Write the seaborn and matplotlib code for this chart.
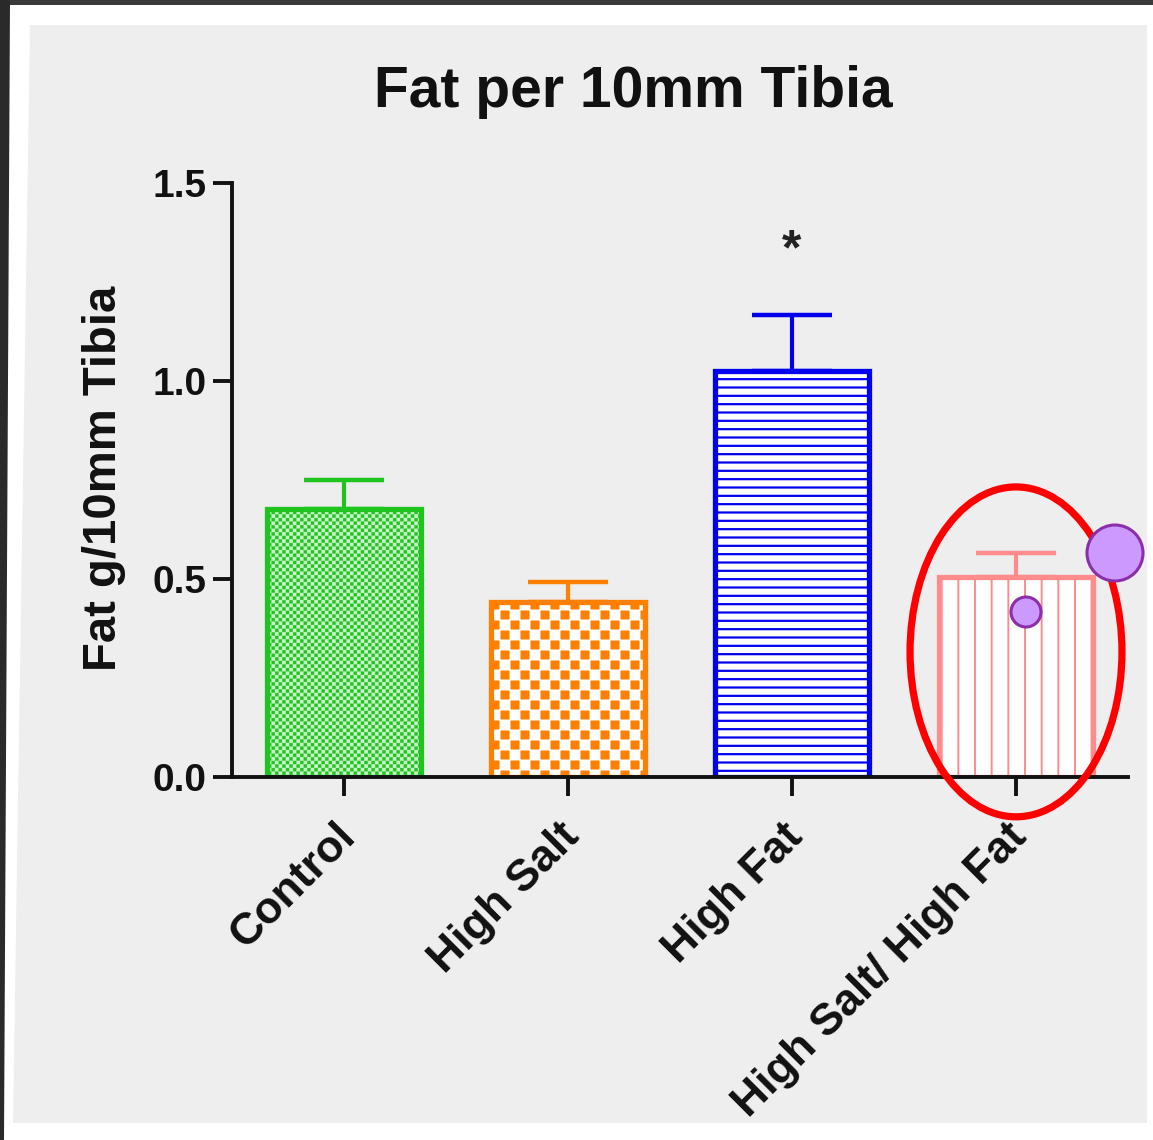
import numpy as np
import pandas as pd
import matplotlib
matplotlib.use("Agg")
import matplotlib.pyplot as plt
import matplotlib.hatch as mhatch
from matplotlib.path import Path
from matplotlib.patches import Ellipse, Polygon
from matplotlib.transforms import ScaledTranslation
import seaborn as sns

# ---------------- data ----------------
categories = ["Control", "High Salt", "High Fat", "High Salt/ High Fat"]
means = [0.677, 0.442, 1.025, 0.505]
sem = [0.073, 0.050, 0.142, 0.061]
sig_marks = ["", "", "*", ""]
sig_y = [0.0, 0.0, 1.295, 0.0]
y_ticks = [0.0, 0.5, 1.0, 1.5]
y_tick_labels = ["0.0", "0.5", "1.0", "1.5"]
title = "Fat per 10mm Tibia"
ylabel = "Fat g/10mm Tibia"

# ---------------- styles ----------------
edge_colors = ["#1fc41f", "#ff8000", "#0000ee", "#ff8c8c"]
face_colors = ["#c9f2c9", "#ffffff", "#ffffff", "#ffffff"]
hatches = ["OO", "O", "--", "|"]
hatch_lw = [0.3, 0.3, 1.6, 1.4]
checker_cells = {1: 10, 2: 28}


# checkerboard hatch (replaces the large-circle hatch 'O')
class CheckerHatch(mhatch.HatchPatternBase):
    def __init__(self, hatch, density):
        c = hatch.count('O')
        n = checker_cells.get(c, 2 * int(round(c * density * 1.15))) if c else 0
        self.n = n
        self.num_vertices = 5 * (n * n // 2) if n else 0

    def set_vertices_and_codes(self, vertices, codes):
        n = self.n
        s = 1.0 / n
        inset = 0.08 * s
        k = 0
        for i in range(n):
            for j in range(n):
                if (i + j) % 2:
                    continue
                x0, y0 = i * s + inset, j * s + inset
                x1, y1 = (i + 1) * s - inset, (j + 1) * s - inset
                vertices[k:k + 5] = [[x0, y0], [x1, y0], [x1, y1], [x0, y1], [x0, y0]]
                codes[k:k + 5] = [Path.MOVETO, Path.LINETO, Path.LINETO,
                                  Path.LINETO, Path.CLOSEPOLY]
                k += 5


mhatch._hatch_types = [CheckerHatch if t is mhatch.LargeCircles else t
                       for t in mhatch._hatch_types]

sns.set_theme(style="ticks")
plt.rcParams["font.family"] = ["Liberation Sans", "DejaVu Sans"]
plt.rcParams["hatch.linewidth"] = 1.5

W, H = 1153, 1140
fig = plt.figure(figsize=(W / 100, H / 100), dpi=100)
fig.patch.set_facecolor("white")


def fp(x, y):
    return (x / W, 1 - y / H)


panel_gray = "#eeeeee"
# dark photo border and gray panel
fig.add_artist(Polygon([fp(0, 0), fp(W, 0), fp(W, 5), fp(0, 5)], closed=True,
                       transform=fig.transFigure, fc="#3a3a3a", ec="none", zorder=-3))
fig.add_artist(Polygon([fp(0, 0), fp(10, 0), fp(4, H), fp(0, H)], closed=True,
                       transform=fig.transFigure, fc="#2a2a2a", ec="none", zorder=-3))
fig.add_artist(Polygon([fp(30, 25), fp(1147, 25), fp(1147, 1123), fp(13, 1123)], closed=True,
                       transform=fig.transFigure, fc=panel_gray, ec="none", zorder=-2))

ax = fig.add_axes([232 / W, 1 - 777 / H, 896 / W, 594 / H])
ax.set_facecolor(panel_gray)

df = pd.DataFrame({"group": categories, "value": means})
sns.barplot(data=df, x="group", y="value", hue="group", order=categories,
            hue_order=categories, palette=dict(zip(categories, face_colors)),
            width=0.69, errorbar=None, legend=False, saturation=1, ax=ax,
            linewidth=3.8)

for p, ec, fc, h, hl in zip(ax.patches, edge_colors, face_colors, hatches, hatch_lw):
    p.set_facecolor(fc)
    p.set_edgecolor(ec)
    p.set_hatch(h)
    p.set_linewidth(3.8)
    p.set_zorder(2)
    if hasattr(p, "set_hatch_linewidth"):
        p.set_hatch_linewidth(hl)

for i, (m, e, c) in enumerate(zip(means, sem, edge_colors)):
    ax.errorbar([i], [m], yerr=[[0], [e]], fmt="none", ecolor=c,
                elinewidth=3.0, capsize=29, capthick=3.2, zorder=1)

for i, (mark, yy) in enumerate(zip(sig_marks, sig_y)):
    if mark:
        ax.text(i, yy, mark, ha="center", va="baseline", fontsize=36,
                fontweight="bold", color="#222222")

ax.set_xlim(-0.5, 3.5)
ax.set_ylim(0, 1.5)

sns.despine(ax=ax)
for s in ["left", "bottom"]:
    ax.spines[s].set_linewidth(2.8)
    ax.spines[s].set_color("#111111")
ax.tick_params(axis="both", direction="out", length=14, width=2.8, color="#111111")
ax.tick_params(axis="y", pad=4)
ax.tick_params(axis="x", pad=14)
ax.grid(False)

ax.set_yticks(y_ticks)
ax.set_yticklabels(y_tick_labels, fontsize=28, fontweight="bold", color="#111111")
ax.set_xticks(range(len(categories)))
ax.set_xticklabels(categories, rotation=45, ha="right", va="top",
                   rotation_mode="anchor", fontsize=32, fontweight="bold",
                   color="#111111")
off = ScaledTranslation(-7 / 72, 0, fig.dpi_scale_trans)
for lbl in ax.get_xticklabels():
    lbl.set_transform(lbl.get_transform() + off)

ax.set_xlabel("")
ax.set_ylabel(ylabel, fontsize=34, fontweight="bold", color="#111111", va="center")
ax.yaxis.set_label_coords((104 - 232) / 896, (777 - 478) / 594)

fig.text(633 / W, 1 - 92 / H, title, ha="center", va="center", fontsize=41,
         fontweight="bold", color="#111111")

# annotation overlay: red ellipse around last bar, purple dots
ax.add_patch(Ellipse((3.0, 0.316), 0.946, 0.833, fill=False, ec="#ff0000",
                     lw=5.2, clip_on=False, zorder=10))
for (cx, cy, r) in [(1115, 553, 28), (1026, 612, 15)]:
    fig.add_artist(Ellipse(fp(cx, cy), 2 * r / W, 2 * r / H, transform=fig.transFigure,
                           fc="#cc99ff", ec="#8b2fa8", lw=2.2, zorder=20))

fig.savefig("out.png", dpi=100, facecolor=fig.get_facecolor())
